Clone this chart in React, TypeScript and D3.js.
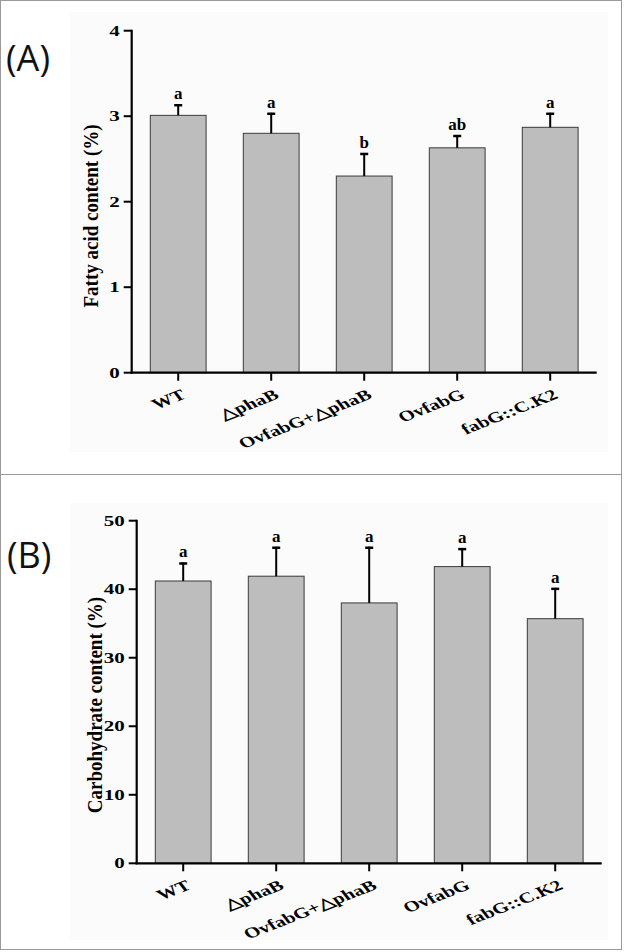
import React from "react";
import * as d3 from "d3";

const categories = ["WT", "\u25B3phaB", "OvfabG+\u25B3phaB", "OvfabG", "fabG::C.K2"];

const fattyValues = [3.01, 2.8, 2.3, 2.63, 2.87];
const fattyErrors = [0.13, 0.24, 0.27, 0.15, 0.17];
const fattyLetters = ["a", "a", "b", "ab", "a"];
const fattyTicks = [0, 1, 2, 3, 4];

const carbValues = [41.2, 41.9, 38.0, 43.3, 35.7];
const carbErrors = [2.7, 4.3, 8.2, 2.7, 4.5];
const carbLetters = ["a", "a", "a", "a", "a"];
const carbTicks = [0, 10, 20, 30, 40, 50];

const SERIF = "'Liberation Serif', 'Times New Roman', serif";
const SX = 1.4;

type PanelProps = {
  tag: string;
  tagX: number;
  tagY: number;
  frameY: number;
  frameH: number;
  bgY: number;
  bgH: number;
  x0: number;
  x1: number;
  yTop: number;
  yBottom: number;
  yMax: number;
  ticks: number[];
  values: number[];
  errors: number[];
  letters: string[];
  yLabel: string;
  yLabelX: number;
  yLabelY: number;
};

function Panel(p: PanelProps) {
  const x = d3.scaleBand<string>().domain(categories).range([p.x0, p.x1]).paddingInner(0.4).paddingOuter(0.2);
  const y = d3.scaleLinear().domain([0, p.yMax]).range([p.yBottom, p.yTop]);
  const bw = x.bandwidth();
  return (
    <g>
      <rect x={0.5} y={p.frameY + 0.5} width={621} height={p.frameH} fill="#ffffff" stroke="#9a9a9a" strokeWidth={1} />
      <rect x={70} y={p.bgY} width={538} height={p.bgH} fill="#fbfbfb" />
      <text x={p.tagX} y={p.tagY} fontFamily="'Open Sans', sans-serif" fontSize={36} fill="#111">
        {p.tag}
      </text>
      {categories.map((c, i) => (
        <rect
          key={"b" + i}
          x={x(c)!}
          y={y(p.values[i])}
          width={bw}
          height={y(0) - y(p.values[i])}
          fill="#bdbdbd"
          stroke="#3a3a3a"
          strokeWidth={1}
        />
      ))}
      {categories.map((c, i) => {
        const cx = x(c)! + bw / 2;
        const top = y(p.values[i] + p.errors[i]);
        return (
          <g key={"e" + i}>
            <line x1={cx} x2={cx} y1={y(p.values[i])} y2={top} stroke="#000" strokeWidth={2} />
            <line x1={cx - 4} x2={cx + 4} y1={top + 1} y2={top + 1} stroke="#000" strokeWidth={2.5} />
            <text
              x={cx}
              y={top - 5}
              textAnchor="middle"
              fontFamily={SERIF}
              fontWeight="bold"
              fontSize={17}
              fill="#000"
            >
              {p.letters[i]}
            </text>
          </g>
        );
      })}
      <line x1={p.x0} x2={p.x0} y1={y(p.yMax) - 1} y2={y(0) + 1} stroke="#000" strokeWidth={2.2} />
      {p.ticks.map((t) => (
        <g key={"t" + t}>
          <line x1={p.x0 - 8} x2={p.x0} y1={y(t)} y2={y(t)} stroke="#000" strokeWidth={2} />
          <g transform={`translate(${p.x0 - 12},${y(t) + 5}) scale(${SX},1)`}>
            <text textAnchor="end" fontFamily={SERIF} fontWeight="bold" fontSize={15} fill="#000">
              {t}
            </text>
          </g>
        </g>
      ))}
      <line x1={p.x0 - 1} x2={p.x1} y1={y(0)} y2={y(0)} stroke="#000" strokeWidth={2.2} />
      {categories.map((c, i) => {
        const cx = x(c)! + bw / 2;
        return (
          <g key={"x" + i}>
            <line x1={cx} x2={cx} y1={y(0)} y2={y(0) + 8} stroke="#000" strokeWidth={2} />
            <g transform={`translate(${cx + 9},${y(0) + 25}) scale(${SX},1) rotate(-29)`}>
              <text textAnchor="end" fontFamily={SERIF} fontWeight="bold" fontSize={15} fill="#000">
                {c}
              </text>
            </g>
          </g>
        );
      })}
      <g transform={`translate(${p.yLabelX},${p.yLabelY}) scale(1.15,1) rotate(-90)`}>
        <text textAnchor="middle" dy="0.35em" fontFamily={SERIF} fontWeight="bold" fontSize={19} fill="#000">
          {p.yLabel}
        </text>
      </g>
    </g>
  );
}

export default function App() {
  return (
    <svg
      width={625}
      height={952}
      viewBox="0 0 625 952"
      style={{ position: "absolute", left: 0, top: 0, background: "#ffffff" }}
    >
      <Panel
        tag="(A)"
        tagX={6}
        tagY={71}
        frameY={0}
        frameH={474}
        bgY={12}
        bgH={440}
        x0={131.7}
        x1={596.7}
        yTop={30.7}
        yBottom={372.7}
        yMax={4}
        ticks={fattyTicks}
        values={fattyValues}
        errors={fattyErrors}
        letters={fattyLetters}
        yLabel="Fatty acid content (%)"
        yLabelX={90}
        yLabelY={216}
      />
      <Panel
        tag="(B)"
        tagX={7}
        tagY={568}
        frameY={474}
        frameH={475}
        bgY={503}
        bgH={437}
        x0={136.7}
        x1={601.7}
        yTop={520.7}
        yBottom={863.3}
        yMax={50}
        ticks={carbTicks}
        values={carbValues}
        errors={carbErrors}
        letters={carbLetters}
        yLabel="Carbohydrate content (%)"
        yLabelX={94}
        yLabelY={705}
      />
    </svg>
  );
}
